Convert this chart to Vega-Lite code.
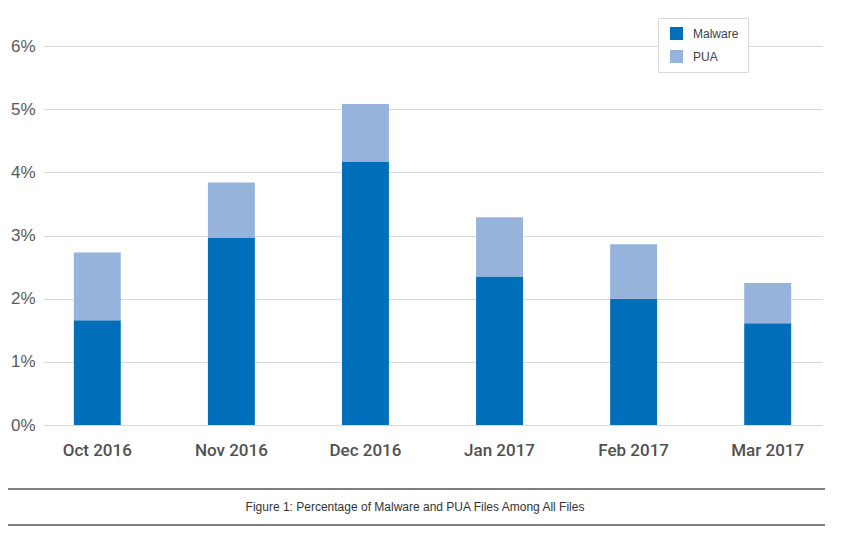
{
  "$schema": "https://vega.github.io/schema/vega-lite/v6.json",
  "background": "white",
  "padding": {"left": 7, "top": 17, "right": 5, "bottom": 5},
  "spacing": 30,
  "config": {"view": {"stroke": null}, "font": "Liberation Sans"},
  "vconcat": [
    {
      "width": 779,
      "height": 379,
      "data": {
        "values": [
          {"month": "Oct 2016", "type": "Malware", "value": 1.66},
          {"month": "Oct 2016", "type": "PUA", "value": 1.07},
          {"month": "Nov 2016", "type": "Malware", "value": 2.97},
          {"month": "Nov 2016", "type": "PUA", "value": 0.87},
          {"month": "Dec 2016", "type": "Malware", "value": 4.17},
          {"month": "Dec 2016", "type": "PUA", "value": 0.91},
          {"month": "Jan 2017", "type": "Malware", "value": 2.35},
          {"month": "Jan 2017", "type": "PUA", "value": 0.94},
          {"month": "Feb 2017", "type": "Malware", "value": 2.0},
          {"month": "Feb 2017", "type": "PUA", "value": 0.86},
          {"month": "Mar 2017", "type": "Malware", "value": 1.61},
          {"month": "Mar 2017", "type": "PUA", "value": 0.64}
        ]
      },
      "mark": {"type": "bar"},
      "encoding": {
        "x": {
          "field": "month",
          "type": "nominal",
          "sort": null,
          "scale": {"paddingInner": 0.65, "paddingOuter": 0.23},
          "axis": {
            "title": null,
            "labelAngle": 0,
            "domain": false,
            "ticks": false,
            "labelPadding": 17,
            "labelDx": 3,
            "labelFontSize": 17,
            "labelFont": "Roboto",
            "labelFontWeight": 500,
            "labelColor": "#505050"
          }
        },
        "y": {
          "field": "value",
          "type": "quantitative",
          "stack": "zero",
          "scale": {"domain": [0, 6], "nice": false},
          "axis": {
            "title": null,
            "values": [0, 1, 2, 3, 4, 5, 6],
            "labelExpr": "datum.value + '%'",
            "domain": false,
            "ticks": false,
            "gridColor": "#d9d9d9",
            "labelFontSize": 17,
            "labelColor": "#595959",
            "labelPadding": 8
          }
        },
        "order": {"field": "type", "sort": "ascending"},
        "color": {
          "field": "type",
          "type": "nominal",
          "scale": {"domain": ["Malware", "PUA"], "range": ["#006EB8", "#95B3DB"]},
          "legend": {
            "title": null,
            "orient": "none",
            "legendX": 615,
            "legendY": -28,
            "symbolType": "square",
            "symbolSize": 169,
            "symbolStrokeWidth": 0,
            "symbolOffset": 3,
            "labelFontSize": 12,
            "labelColor": "#404040",
            "labelFont": "Liberation Sans",
            "labelOffset": 10,
            "padding": 9,
            "rowPadding": 10,
            "strokeColor": "#d9d9d9",
            "fillColor": "white"
          }
        }
      }
    },
    {
      "width": 782,
      "height": 36,
      "layer": [
        {
          "data": {"values": [{"edge": 0}, {"edge": 1}]},
          "mark": {"type": "rule", "color": "black", "strokeWidth": 1.2},
          "encoding": {
            "x": {"datum": -0.0448, "type": "quantitative", "scale": {"domain": [0, 1]}, "axis": null},
            "x2": {"datum": 1},
            "y": {"field": "edge", "type": "quantitative", "scale": {"domain": [0, 1]}, "axis": null}
          }
        },
        {
          "data": {"values": [{"caption": "Figure 1: Percentage  of Malware  and PUA Files Among All Files", "pos": 0.5}]},
          "mark": {"type": "text", "fontSize": 12, "color": "#333333", "font": "Liberation Sans"},
          "encoding": {
            "x": {"datum": 0.4757, "type": "quantitative", "scale": {"domain": [0, 1]}, "axis": null},
            "y": {"field": "pos", "type": "quantitative", "scale": {"domain": [0, 1]}, "axis": null},
            "text": {"field": "caption"}
          }
        }
      ]
    }
  ]
}
